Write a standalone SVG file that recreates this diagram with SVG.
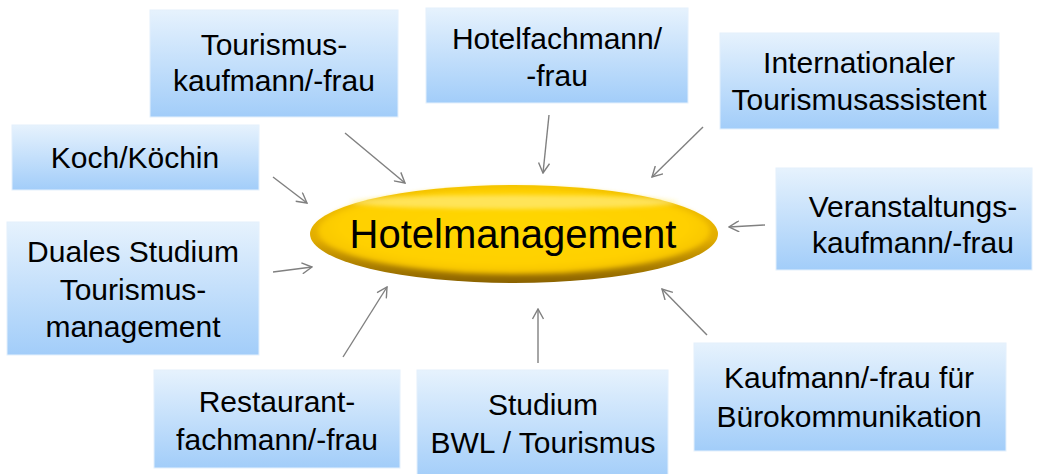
<svg xmlns="http://www.w3.org/2000/svg" width="1042" height="474" viewBox="0 0 1042 474">
  <defs>
    <linearGradient id="boxFill" x1="0" y1="0" x2="0" y2="1">
      <stop offset="0" stop-color="#e6f2fd"/>
      <stop offset="1" stop-color="#a2cdf9"/>
    </linearGradient>
    <linearGradient id="rimFill" x1="0" y1="0" x2="0" y2="1">
      <stop offset="0" stop-color="#f3c300"/>
      <stop offset="0.55" stop-color="#e2ad00"/>
      <stop offset="1" stop-color="#8a6200"/>
    </linearGradient>
    <radialGradient id="coreFill" cx="0.5" cy="0.45" r="0.55">
      <stop offset="0" stop-color="#ffd700"/>
      <stop offset="0.8" stop-color="#ffd000"/>
      <stop offset="1" stop-color="#f5c200"/>
    </radialGradient>
    <filter id="soft" x="-10%" y="-30%" width="120%" height="160%">
      <feGaussianBlur stdDeviation="2.5"/>
    </filter>
    <filter id="softer" x="-10%" y="-50%" width="120%" height="200%">
      <feGaussianBlur stdDeviation="2"/>
    </filter>
    <marker id="arrowOpen" viewBox="0 0 12 12" refX="11" refY="6" markerWidth="12" markerHeight="12" markerUnits="userSpaceOnUse" orient="auto">
      <path d="M1,0.5 L11,6 L1,11.5" fill="none" stroke="#7f7f7f" stroke-width="1.4"/>
    </marker>
  </defs>
  <style>
    .box { fill: url(#boxFill); stroke: #e4f0fc; stroke-width: 1; }
    .lbl { font-family: "Liberation Sans", Arial, sans-serif; font-size: 30px; fill: #000; text-anchor: middle; }
    .hub { font-family: "Liberation Sans", Arial, sans-serif; font-size: 40px; fill: #000; text-anchor: middle; }
    .conn { stroke: #808080; stroke-width: 1.4; fill: none; marker-end: url(#arrowOpen); }
  </style>

  <rect width="1042" height="474" fill="#ffffff"/>

  <!-- outer qualification boxes -->
  <g id="tourismuskaufmann">
    <rect class="box" x="150" y="10" width="248" height="107"/>
    <text class="lbl" x="274" y="55">Tourismus-</text>
    <text class="lbl" x="274" y="91">kaufmann/-frau</text>
  </g>
  <g id="hotelfachmann">
    <rect class="box" x="426" y="8" width="262" height="95"/>
    <text class="lbl" x="557" y="49">Hotelfachmann/</text>
    <text class="lbl" x="557" y="86">-frau</text>
  </g>
  <g id="tourismusassistent">
    <rect class="box" x="720" y="33" width="279" height="96"/>
    <text class="lbl" x="859" y="73">Internationaler</text>
    <text class="lbl" x="859" y="110">Tourismusassistent</text>
  </g>
  <g id="koch">
    <rect class="box" x="12" y="125" width="247" height="65"/>
    <text class="lbl" x="135" y="168">Koch/Köchin</text>
  </g>
  <g id="veranstaltungskaufmann">
    <rect class="box" x="776" y="168" width="256" height="102"/>
    <text class="lbl" x="913" y="217">Veranstaltungs-</text>
    <text class="lbl" x="913" y="253">kaufmann/-frau</text>
  </g>
  <g id="duales-studium">
    <rect class="box" x="7" y="222" width="252" height="133"/>
    <text class="lbl" x="133" y="262">Duales Studium</text>
    <text class="lbl" x="133" y="300">Tourismus-</text>
    <text class="lbl" x="133" y="337">management</text>
  </g>
  <g id="restaurantfachmann">
    <rect class="box" x="154" y="370" width="246" height="98"/>
    <text class="lbl" x="277" y="412">Restaurant-</text>
    <text class="lbl" x="277" y="450">fachmann/-frau</text>
  </g>
  <g id="studium-bwl">
    <rect class="box" x="417" y="370" width="251" height="110"/>
    <text class="lbl" x="543" y="415">Studium</text>
    <text class="lbl" x="543" y="453">BWL / Tourismus</text>
  </g>
  <g id="buerokommunikation">
    <rect class="box" x="694" y="343" width="312" height="108"/>
    <text class="lbl" x="849" y="388">Kaufmann/-frau für</text>
    <text class="lbl" x="849" y="427">Bürokommunikation</text>
  </g>

  <!-- connectors pointing at the hub -->
  <g id="connectors">
    <line class="conn" x1="345" y1="133" x2="405" y2="183"/>
    <line class="conn" x1="273" y1="177" x2="307" y2="203"/>
    <line class="conn" x1="549" y1="115" x2="543" y2="173"/>
    <line class="conn" x1="703" y1="127" x2="652" y2="177"/>
    <line class="conn" x1="765" y1="225" x2="729" y2="227"/>
    <line class="conn" x1="273" y1="272" x2="312" y2="267"/>
    <line class="conn" x1="343" y1="357" x2="387" y2="287"/>
    <line class="conn" x1="538" y1="363" x2="538" y2="309"/>
    <line class="conn" x1="707" y1="335" x2="662" y2="289"/>
  </g>

  <!-- central hub: beveled gold ellipse -->
  <g id="hotelmanagement">
    <ellipse cx="514" cy="234" rx="204" ry="49" fill="url(#rimFill)"/>
    <ellipse cx="514" cy="231" rx="196" ry="43" fill="url(#coreFill)" filter="url(#soft)"/>
    <ellipse cx="514" cy="202" rx="165" ry="7" fill="#fff3a0" opacity="0.55" filter="url(#softer)"/>
    <text class="hub" x="513" y="248">Hotelmanagement</text>
  </g>
</svg>
